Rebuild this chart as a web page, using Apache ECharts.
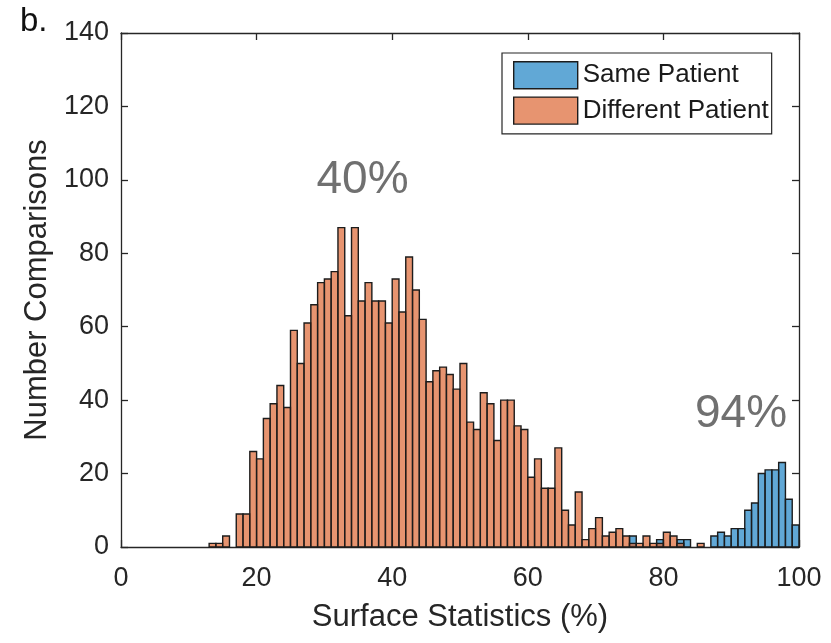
<!DOCTYPE html>
<html>
<head>
<meta charset="utf-8"/>
<script src="https://cdn.jsdelivr.net/npm/echarts@6/dist/echarts.min.js"></script>
<style>
  html, body { margin: 0; padding: 0; background: #fff; }
  #chart { width: 831px; height: 643px; }
</style>
</head>
<body>
<div id="chart"></div>
<script>
// histogram counts, one bin per 1% (bin i covers i..i+1)
var binWidth = 1;
var samePatient = [
  0, 0, 0, 0, 0, 0, 0, 0, 0, 0,
  0, 0, 0, 0, 0, 0, 0, 0, 0, 0,
  0, 0, 0, 0, 0, 0, 0, 0, 0, 0,
  0, 0, 0, 0, 0, 0, 0, 0, 0, 0,
  0, 0, 0, 0, 0, 0, 0, 0, 0, 0,
  0, 0, 0, 0, 0, 0, 0, 0, 0, 0,
  0, 0, 0, 0, 0, 0, 0, 0, 0, 0,
  0, 0, 0, 0, 0, 3, 0, 0, 0, 2,
  0, 0, 2, 2, 0, 0, 0, 3, 4, 3,
  5, 5, 10, 12, 20, 21, 21, 23, 13, 6
];
var diffPatient = [
  0, 0, 0, 0, 0, 0, 0, 0, 0, 0,
  0, 0, 0, 1, 1, 3, 0, 9, 9, 26,
  24, 35, 39, 44, 38, 59, 50, 61, 66, 72,
  73, 75, 87, 63, 87, 67, 72, 67, 67, 61,
  73, 64, 79, 70, 62, 45, 48, 49, 47, 43,
  50, 34, 32, 42, 39, 29, 40, 40, 33, 32,
  19, 24, 16, 16, 27, 10, 6, 15, 2, 5,
  8, 3, 4, 5, 3, 1, 1, 3, 1, 1,
  4, 3, 1, 0, 0, 1, 0, 0, 0, 0,
  0, 0, 0, 0, 0, 0, 0, 0, 0, 0
];
var xTicks = [0, 20, 40, 60, 80, 100];
var yTicks = [0, 20, 40, 60, 80, 100, 120, 140];
var notes = [
  { text: '40%', x: 362.5, y: 180 },
  { text: '94%', x: 741, y: 414 }
];

var FONT = '"Liberation Sans", Arial, Helvetica, sans-serif';
var AXIS = '#262626';
var BLUE = 'rgba(0,114,189,0.62)';
var ORANGE = 'rgba(217,83,25,0.62)';

function toPairs(counts) {
  var out = [];
  for (var i = 0; i < counts.length; i++) out.push([i * binWidth, counts[i]]);
  return out;
}

function histRender(color) {
  return function (params, api) {
    var x0 = api.value(0), v = api.value(1);
    if (!v) return;
    var p0 = api.coord([x0, 0]);
    var p1 = api.coord([x0 + binWidth, v]);
    return {
      type: 'rect',
      shape: { x: p0[0], y: p1[1], width: p1[0] - p0[0], height: p0[1] - p1[1] },
      style: { fill: color, stroke: '#1c1c1c', lineWidth: 1.4 }
    };
  };
}

var chart = echarts.init(document.getElementById('chart'), null, { renderer: 'canvas' });

var xBase = {
  type: 'value', min: xTicks[0], max: xTicks[xTicks.length - 1], interval: 20,
  axisLine: { show: true, onZero: false, lineStyle: { color: AXIS, width: 1.3 } },
  axisTick: { show: true, inside: true, length: 7, lineStyle: { color: AXIS, width: 1.3 } },
  splitLine: { show: false }
};
var yBase = {
  type: 'value', min: yTicks[0], max: yTicks[yTicks.length - 1], interval: 20,
  axisLine: { show: true, onZero: false, lineStyle: { color: AXIS, width: 1.3 } },
  axisTick: { show: true, inside: true, length: 7, lineStyle: { color: AXIS, width: 1.3 } },
  splitLine: { show: false }
};

chart.setOption({
  animation: false,
  backgroundColor: '#fff',
  grid: { left: 121, right: 32, top: 33, bottom: 96 },
  xAxis: [
    Object.assign({}, xBase, {
      position: 'bottom',
      axisLabel: { fontSize: 27, fontFamily: FONT, color: AXIS, margin: 18 },
      name: 'Surface Statistics (%)', nameLocation: 'middle', nameGap: 55,
      nameTextStyle: { fontSize: 31, fontFamily: FONT, color: AXIS }
    }),
    Object.assign({}, xBase, { position: 'top', axisLabel: { show: false } })
  ],
  yAxis: [
    Object.assign({}, yBase, {
      position: 'left',
      axisLabel: { fontSize: 27, fontFamily: FONT, color: AXIS, margin: 12 },
      name: 'Number Comparisons', nameLocation: 'middle', nameGap: 68,
      nameTextStyle: { fontSize: 31, fontFamily: FONT, color: AXIS }
    }),
    Object.assign({}, yBase, { position: 'right', axisLabel: { show: false } })
  ],
  legend: {
    orient: 'vertical', left: 502, top: 53,
    padding: [8, 3, 9, 11],
    itemWidth: 64, itemHeight: 27, itemGap: 7,
    icon: 'rect',
    borderColor: AXIS, borderWidth: 1.2, backgroundColor: '#fff',
    itemStyle: { borderColor: '#1c1c1c', borderWidth: 1.4 },
    textStyle: { fontSize: 26, fontFamily: FONT, color: '#1a1a1a' },
    data: ['Same Patient', 'Different Patient']
  },
  series: [
    {
      name: 'Same Patient', type: 'custom', xAxisIndex: 0, yAxisIndex: 0,
      itemStyle: { color: BLUE },
      renderItem: histRender(BLUE),
      encode: { x: 0, y: 1 },
      data: toPairs(samePatient)
    },
    {
      name: 'Different Patient', type: 'custom', xAxisIndex: 0, yAxisIndex: 0,
      itemStyle: { color: ORANGE },
      renderItem: histRender(ORANGE),
      encode: { x: 0, y: 1 },
      data: toPairs(diffPatient)
    }
  ],
  graphic: [
    {
      type: 'text', left: 20, top: 5, z: 10,
      style: { text: 'b.', fontSize: 33, fontFamily: FONT, fill: '#111' }
    }
  ].concat(notes.map(function (n) {
    return {
      type: 'text', x: n.x, y: n.y, z: 10,
      style: { text: n.text, fontSize: 46, fontFamily: FONT, fill: '#707070', align: 'center', verticalAlign: 'middle' }
    };
  }))
});
</script>
</body>
</html>
